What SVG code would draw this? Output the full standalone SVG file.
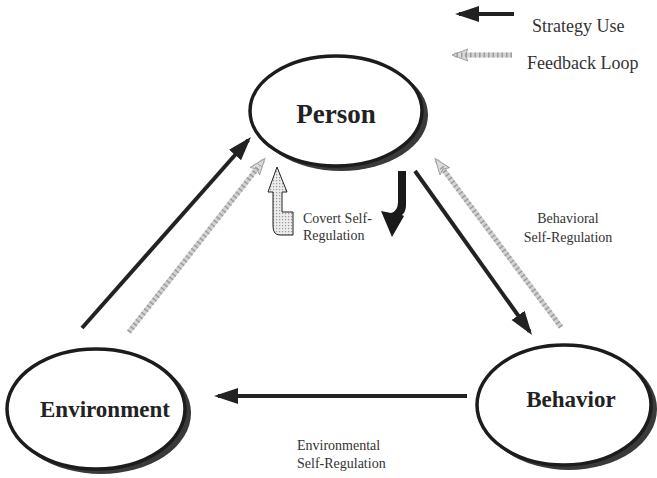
<svg xmlns="http://www.w3.org/2000/svg" width="657" height="478" viewBox="0 0 657 478">
  <defs>
    <style>
      .shadow { fill: #3a3a3a; }
      .face { fill: #ffffff; stroke: #1c1c1c; stroke-width: 3.5; }
      .node-label { font-family: "Liberation Serif", "Times New Roman", serif; font-weight: bold; fill: #222; text-anchor: middle; }
      .note { font-family: "Liberation Serif", "Times New Roman", serif; font-size: 14px; fill: #333; }
      .legend-text { font-family: "Liberation Serif", "Times New Roman", serif; font-size: 18px; fill: #333; }
      .strategy { stroke: #222; stroke-width: 4; fill: none; }
      .feedback-base { stroke: #d2d2d2; stroke-width: 5; fill: none; }
      .feedback-hatch { stroke: #9c9c9c; stroke-width: 5; stroke-dasharray: 1.5 3; fill: none; }
    </style>
    <!-- solid head for strategy-use arrows -->
    <marker id="headStrategy" markerUnits="userSpaceOnUse" markerWidth="26" markerHeight="18" refX="20" refY="8" orient="auto">
      <path d="M0,0 L24,8 L0,16 Z" fill="#222"/>
    </marker>
    <!-- pale outlined head for feedback arrows -->
    <marker id="headFeedback" markerUnits="userSpaceOnUse" markerWidth="20" markerHeight="16" refX="14" refY="7" orient="auto">
      <path d="M0,1 L16,7 L0,13 L3,7 Z" fill="#dcdcdc" stroke="#a0a0a0" stroke-width="1"/>
    </marker>
    <!-- dotted fill for the covert arrow -->
    <pattern id="dots" width="3" height="3" patternUnits="userSpaceOnUse">
      <rect width="3" height="3" fill="#ececec"/>
      <rect width="1.2" height="1.2" fill="#9a9a9a"/>
    </pattern>
  </defs>

  <rect width="657" height="478" fill="#ffffff"/>

  <!-- legend -->
  <g id="legend">
    <line class="strategy" x1="514" y1="14" x2="459" y2="14" marker-end="url(#headStrategy)"/>
    <text class="legend-text" x="532" y="32">Strategy Use</text>
    <line class="feedback-base" x1="512" y1="55" x2="454" y2="55" marker-end="url(#headFeedback)"/>
    <line class="feedback-hatch" x1="512" y1="55" x2="456" y2="55"/>
    <text class="legend-text" x="527" y="69">Feedback Loop</text>
  </g>

  <!-- connectors -->
  <g id="connectors">
    <!-- Environment to Person -->
    <line class="strategy" x1="82" y1="328" x2="248.3" y2="140" marker-end="url(#headStrategy)"/>
    <line class="feedback-base" x1="129" y1="332" x2="263.5" y2="160.2" marker-end="url(#headFeedback)"/>
    <line class="feedback-hatch" x1="129" y1="332" x2="260" y2="165"/>
    <!-- Person to Behavior -->
    <line class="strategy" x1="415" y1="171" x2="529.7" y2="331.7" marker-end="url(#headStrategy)"/>
    <!-- Behavior back to Person -->
    <line class="feedback-base" x1="561" y1="327" x2="436.4" y2="160.2" marker-end="url(#headFeedback)"/>
    <line class="feedback-hatch" x1="561" y1="327" x2="440" y2="165"/>
    <!-- Behavior to Environment -->
    <line class="strategy" x1="467" y1="396" x2="218" y2="396" marker-end="url(#headStrategy)"/>
    <!-- covert self-regulation loop -->
    <path id="covert-up" d="M277,167 L287,192 L282,192 L282,212 L293,212 L293,235 L280,235 Q273,235 273,226 L273,192 L268,192 Z" fill="url(#dots)" stroke="#222" stroke-width="1"/>
    <path id="covert-down" d="M398,171 L406,171 L406,205 Q406,212 402,215 L404,216 L392,237 L381,211 L391,213 Q398,211 398,202 Z" fill="#1a1a1a"/>
  </g>

  <!-- nodes -->
  <g id="person">
    <ellipse class="shadow" cx="341" cy="115" rx="87" ry="56"/>
    <ellipse class="face" cx="336" cy="111" rx="86" ry="55"/>
    <text class="node-label" x="336" y="123" font-size="27">Person</text>
  </g>
  <g id="environment">
    <ellipse class="shadow" cx="101" cy="413" rx="90" ry="61"/>
    <ellipse class="face" cx="96" cy="409" rx="89" ry="60"/>
    <text class="node-label" x="105" y="417" font-size="23">Environment</text>
  </g>
  <g id="behavior">
    <ellipse class="shadow" cx="569" cy="409" rx="88" ry="61"/>
    <ellipse class="face" cx="564" cy="405" rx="87" ry="60"/>
    <text class="node-label" x="571" y="407" font-size="23">Behavior</text>
  </g>

  <!-- connector notes -->
  <g id="notes">
    <text class="note" x="303" y="223">Covert Self-</text>
    <text class="note" x="303" y="240">Regulation</text>
    <text class="note" x="568" y="223" text-anchor="middle">Behavioral</text>
    <text class="note" x="568" y="242" text-anchor="middle">Self-Regulation</text>
    <text class="note" x="297" y="450">Environmental</text>
    <text class="note" x="297" y="468">Self-Regulation</text>
  </g>
</svg>
